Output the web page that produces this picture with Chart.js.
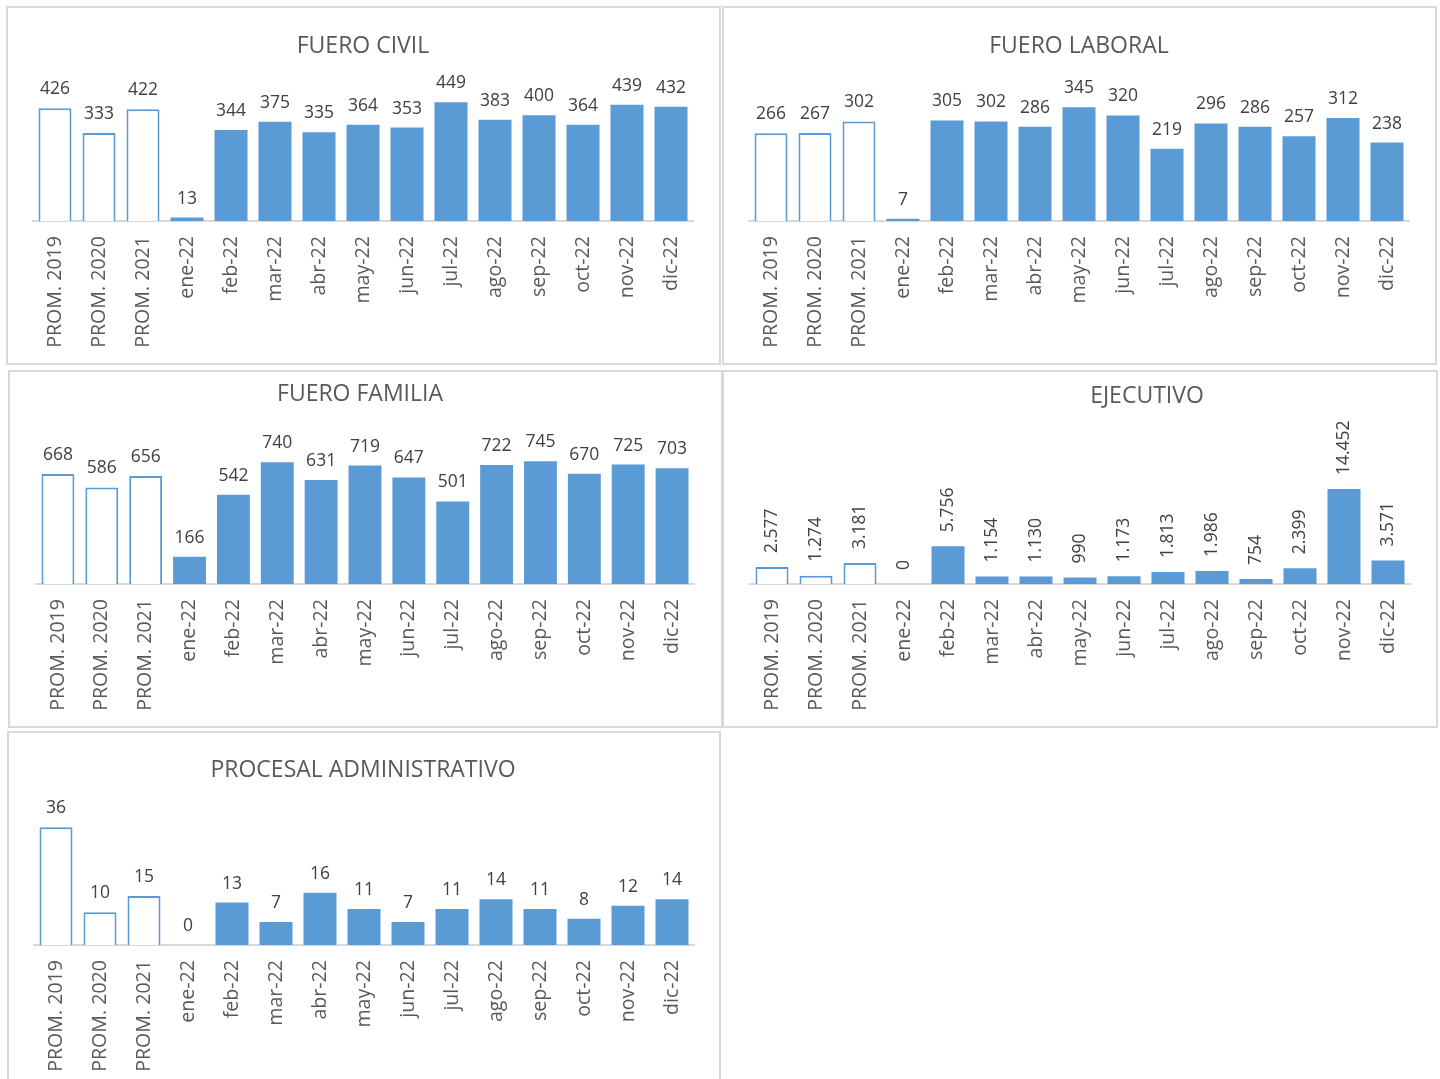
<!DOCTYPE html>
<html lang="es">
<head>
<meta charset="utf-8">
<title>Fueros 2022</title>
<script src="https://cdn.jsdelivr.net/npm/chart.js@4.4.0/dist/chart.umd.min.js"></script>
<style>
  body { margin: 0; width: 1440px; height: 1079px; overflow: hidden; background: #fff; position: relative; }
  .panel { position: absolute; border: 2px solid #d9d9d9; box-sizing: border-box; background: #fff; }
  .panel canvas { position: absolute; left: 0; top: 0; }
  .titulo { position: absolute; transform: translate(-50%, -50%); font-family: "Open Sans", sans-serif;
            font-size: 23px; color: #595959; white-space: nowrap; }
</style>
</head>
<body>

<script>
const categorias = ["PROM. 2019", "PROM. 2020", "PROM. 2021", "ene-22", "feb-22", "mar-22", "abr-22",
  "may-22", "jun-22", "jul-22", "ago-22", "sep-22", "oct-22", "nov-22", "dic-22"];
const fueroCivil = [426, 333, 422, 13, 344, 375, 335, 364, 353, 449, 383, 400, 364, 439, 432];
const fueroLaboral = [266, 267, 302, 7, 305, 302, 286, 345, 320, 219, 296, 286, 257, 312, 238];
const fueroFamilia = [668, 586, 656, 166, 542, 740, 631, 719, 647, 501, 722, 745, 670, 725, 703];
const ejecutivo = [2577, 1274, 3181, 0, 5756, 1154, 1130, 990, 1173, 1813, 1986, 754, 2399, 14452, 3571];
const procesalAdministrativo = [36, 10, 15, 0, 13, 7, 16, 11, 7, 11, 14, 11, 8, 12, 14];

const azul = "#5b9bd5";
const cantidadPromedios = 3; //las 3 primeras barras son promedios (sin relleno)

//numero con punto de miles, como en el original
function formato(valor) {
  return String(valor).replace(/\B(?=(\d{3})+(?!\d))/g, ".");
}

//plugin propio para escribir el valor encima de cada barra
const etiquetasPlugin = {
  id: "etiquetas",
  afterDatasetsDraw(chart, args, opts) {
    const ctx = chart.ctx;
    const meta = chart.getDatasetMeta(0);
    const datos = chart.data.datasets[0].data;
    ctx.save();
    ctx.fillStyle = "#404040";
    ctx.font = '17.5px "Open Sans", sans-serif';
    meta.data.forEach((barra, i) => {
      const texto = formato(datos[i]);
      if (opts.rotar) {
        ctx.save();
        ctx.translate(barra.x, barra.y - 14);
        ctx.rotate(-Math.PI / 2);
        ctx.textAlign = "left";
        ctx.textBaseline = "middle";
        ctx.fillText(texto, 0, 0);
        ctx.restore();
      } else {
        ctx.textAlign = "center";
        ctx.textBaseline = "alphabetic";
        ctx.fillText(texto, barra.x, barra.y - 14);
      }
    });
    ctx.restore();
  }
};

//crea el recuadro, el titulo y el grafico
//caja = recuadro en la pagina, area = zona del grafico en la pagina (izq, der, eje, arriba)
function crearGrafico(titulo, valores, yMax, caja, area, tituloPos, rotar) {
  const panel = document.createElement("div");
  panel.className = "panel";
  panel.style.left = caja.x + "px";
  panel.style.top = caja.y + "px";
  panel.style.width = caja.w + "px";
  panel.style.height = caja.h + "px";
  document.body.appendChild(panel);

  const canvas = document.createElement("canvas");
  const ancho = caja.w - 4;
  const alto = caja.h - 4;
  canvas.width = ancho;
  canvas.height = alto;
  canvas.style.width = ancho + "px";
  canvas.style.height = alto + "px";
  panel.appendChild(canvas);

  const tit = document.createElement("div");
  tit.className = "titulo";
  tit.textContent = titulo;
  tit.style.left = tituloPos[0] + "px";
  tit.style.top = tituloPos[1] + "px";
  document.body.appendChild(tit);

  const origenX = caja.x + 2;
  const origenY = caja.y + 2;
  const altoEje = origenY + alto - area.eje;

  return new Chart(canvas.getContext("2d"), {
    type: "bar",
    data: {
      labels: categorias,
      datasets: [{
        data: valores,
        backgroundColor: valores.map((v, i) => (i < cantidadPromedios ? "#ffffff" : azul)),
        borderColor: azul,
        borderWidth: valores.map((v, i) => (i < cantidadPromedios ? 2 : 0)),
        barPercentage: 0.75,
        categoryPercentage: 1
      }]
    },
    options: {
      responsive: false,
      animation: false,
      layout: {
        padding: {
          left: area.izq - origenX,
          right: origenX + ancho - area.der,
          top: area.arriba - origenY,
          bottom: 0
        }
      },
      plugins: {
        legend: { display: false },
        tooltip: { enabled: false },
        etiquetas: { rotar: rotar }
      },
      scales: {
        x: {
          grid: { display: false, drawTicks: false },
          border: { color: "#d9d9d9", width: 2 },
          ticks: {
            autoSkip: false,
            maxRotation: 90,
            minRotation: 90,
            padding: 15,
            color: "#595959",
            font: { family: "Open Sans", size: 19.6 }
          },
          afterFit: (escala) => { escala.height = altoEje; }
        },
        y: {
          display: false,
          min: 0,
          max: yMax
        }
      }
    },
    plugins: [etiquetasPlugin]
  });
}

crearGrafico("FUERO CIVIL", fueroCivil, 582,
  { x: 6, y: 6, w: 715, h: 359 }, { izq: 33, der: 693, eje: 221, arriba: 67 }, [363, 44], false);
crearGrafico("FUERO LABORAL", fueroLaboral, 467,
  { x: 722, y: 6, w: 715, h: 359 }, { izq: 749, der: 1409, eje: 221, arriba: 67 }, [1079, 44], false);
crearGrafico("FUERO FAMILIA", fueroFamilia, 929,
  { x: 8, y: 370, w: 715, h: 358 }, { izq: 36, der: 694, eje: 584, arriba: 431 }, [360, 392], false);
crearGrafico("EJECUTIVO", ejecutivo, 23277,
  { x: 722, y: 370, w: 716, h: 358 }, { izq: 750, der: 1410, eje: 584, arriba: 431 }, [1147, 394], true);
crearGrafico("PROCESAL ADMINISTRATIVO", procesalAdministrativo, 46.8,
  { x: 7, y: 731, w: 714, h: 370 }, { izq: 34, der: 694, eje: 945, arriba: 792 }, [363, 768], false);
</script>
</body>
</html>
